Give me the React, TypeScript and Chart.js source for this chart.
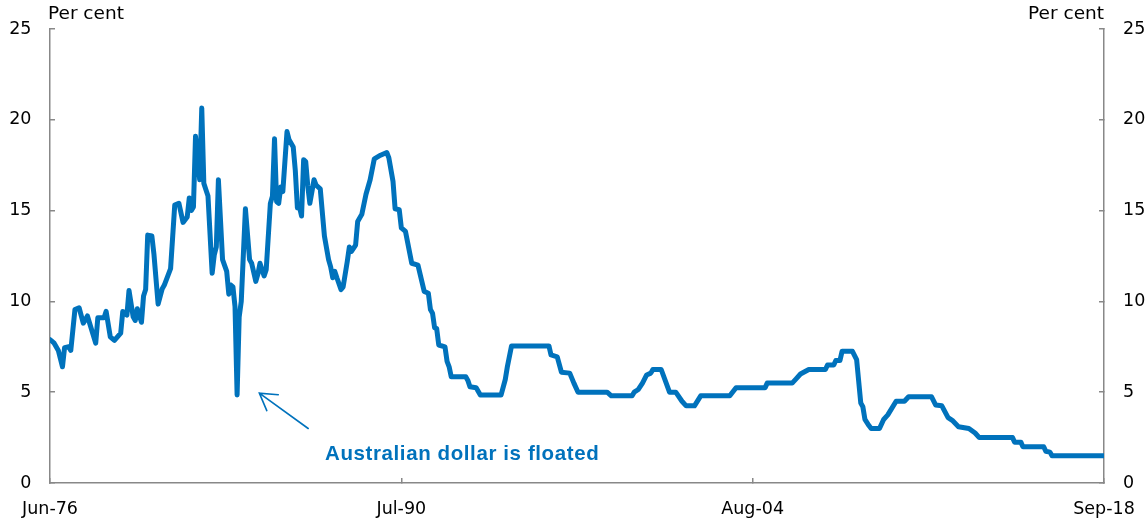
import React, { useEffect, useRef } from "react";
import { Chart, registerables } from "chart.js";

Chart.register(...registerables);

// x values: months elapsed since Jun-1976
const monthOffset = [
  0, 2, 4, 6, 7, 9, 10, 12, 14, 16, 18, 22, 23, 26, 27, 29, 31, 34, 35, 37, 38, 40, 41, 42, 44, 45, 46, 47, 49, 50,
  52, 54, 55, 58, 60, 62, 64, 66, 67, 68, 69, 70, 71, 72, 73, 74, 75, 76, 78, 79, 80, 81, 83, 85, 86, 87, 88, 89, 90,
  91, 92, 94, 96, 97, 99, 100, 101, 103, 104, 106, 107, 108, 109, 110, 111, 112, 114, 115, 117, 118, 119, 120, 121,
  122, 123, 124, 125, 127, 128, 130, 131, 132, 134, 135, 136, 137, 138, 140, 141, 143, 144, 145, 147, 148, 150, 152,
  154, 156, 159, 162, 163, 165, 166, 168, 169, 171, 174, 177, 180, 182, 183, 184, 185, 186, 187, 190, 191, 192, 193,
  200, 201, 202, 205, 207, 217, 219, 220, 222, 240, 241, 244, 246, 250, 252, 254, 268, 270, 280, 281, 283, 285, 287,
  289, 290, 294, 298, 301, 304, 306, 310, 313, 327, 330, 344, 345, 357, 359, 361, 365, 373, 374, 377, 378, 380, 381,
  386, 388, 390, 391, 392, 394, 395, 399, 401, 403, 407, 411, 413, 424, 426, 429, 432, 434, 437, 442, 445, 447, 463,
  464, 467, 468, 478, 479, 481, 482, 507,
];

// Interest rate, per cent
const rateValues = [
  7.9, 7.7, 7.3, 6.4, 7.45, 7.5, 7.3, 9.55, 9.65, 8.8, 9.2, 7.7, 9.1, 9.1, 9.45, 8.05, 7.85, 8.25, 9.45, 9.25, 10.6,
  9.15, 8.95, 9.6, 8.85, 10.3, 10.65, 13.65, 13.6, 12.6,
  9.85, 10.7, 10.9, 11.8, 15.3, 15.4, 14.35, 14.65, 15.7, 15.0, 15.2, 19.1, 18.0, 16.7, 20.65, 16.5, 16.15, 15.8,
  11.55, 12.55, 13.0, 16.7, 12.3, 11.65, 10.4, 10.9, 10.8, 9.7, 4.85,
  9.15, 10.0, 15.1, 12.3, 12.1, 11.1, 11.5, 12.1, 11.4, 11.75, 15.4, 15.8, 18.95, 15.5, 15.4, 16.3, 16.05, 19.35,
  18.9, 18.5, 17.2, 15.15, 15.2, 14.7,
  17.8, 17.7, 16.35, 15.4, 16.7, 16.4, 16.2, 14.9, 13.6, 12.3, 11.9, 11.3, 11.65, 11.3, 10.65, 10.8, 12.2, 13.0, 12.75,
  13.1, 14.4, 14.8, 15.9,
  16.7, 17.85, 18.05, 18.2, 17.9, 16.6, 15.1, 15.05, 14.05, 13.85, 12.1, 12.0, 10.55, 10.45, 9.55, 9.35, 8.55, 8.5,
  7.6, 7.5, 6.7, 6.4, 5.85,
  5.85, 5.65, 5.3, 5.25, 4.85, 4.85, 5.7, 6.4, 7.55, 7.55, 7.05, 6.95, 6.1, 6.05, 5.5, 5.0, 5.0, 4.8, 4.8, 5.0, 5.15,
  5.5, 5.95,
  6.05, 6.25, 6.25, 5.0, 5.0, 4.5, 4.25, 4.25, 4.8, 4.8, 5.25, 5.25, 5.5, 5.5, 5.75, 6.0, 6.25, 6.25, 6.5, 6.5, 6.75,
  6.75, 7.25,
  7.25, 6.8, 4.4, 4.2, 3.5, 3.15, 3.0, 3.0, 3.5, 3.75, 4.5, 4.5, 4.75, 4.75, 4.3, 4.25, 3.6, 3.45, 3.1, 3.0, 2.75, 2.5,
  2.5,
  2.25, 2.25, 2.0, 2.0, 1.75, 1.7, 1.5, 1.5,
];

const xTickOffsets = [0, 169, 338, 507];
const xTickLabels = ["Jun-76", "Jul-90", "Aug-04", "Sep-18"];
const yMin = 0;
const yMax = 25;
const yStep = 5;

const axisTitle = "Per cent";
const annotationText = "Australian dollar is floated";
// annotation anchors in data units (month offset, per cent)
const arrowTip = { x: 100.7, y: 4.95 };
const arrowTail = { x: 124.2, y: 3.0 };
const annotationAnchor = { x: 132.3, y: 1.6 };

const BLUE = "#0072BC";
const AXIS_GREY = "#888888";
const FONT = "'DejaVu Sans', sans-serif";
const TICK_FONT = { family: FONT, size: 17.5 };

const overlayPlugin = {
  id: "overlay",
  afterDraw(chart: any) {
    const { ctx, chartArea } = chart;
    const x = chart.scales.x;
    const y = chart.scales.y;
    ctx.save();
    // unit titles
    ctx.fillStyle = "#000";
    ctx.font = `18.5px ${FONT}`;
    ctx.textBaseline = "middle";
    ctx.textAlign = "left";
    ctx.fillText(axisTitle, chartArea.left - 2, 14);
    ctx.textAlign = "right";
    ctx.fillText(axisTitle, chartArea.right, 14);

    // arrow
    const tx = x.getPixelForValue(arrowTip.x);
    const ty = y.getPixelForValue(arrowTip.y);
    const ex = x.getPixelForValue(arrowTail.x);
    const ey = y.getPixelForValue(arrowTail.y);
    ctx.strokeStyle = BLUE;
    ctx.lineWidth = 1.6;
    ctx.lineCap = "round";
    ctx.beginPath();
    ctx.moveTo(ex, ey);
    ctx.lineTo(tx, ty);
    const ang = Math.atan2(ey - ty, ex - tx);
    const len = 19;
    const spread = (31 * Math.PI) / 180;
    ctx.moveTo(tx + len * Math.cos(ang - spread), ty + len * Math.sin(ang - spread));
    ctx.lineTo(tx, ty);
    ctx.lineTo(tx + len * Math.cos(ang + spread), ty + len * Math.sin(ang + spread));
    ctx.stroke();

    // annotation text
    ctx.fillStyle = BLUE;
    ctx.font = `bold 20.5px 'Liberation Sans', Arial, sans-serif`;
    try {
      (ctx as any).letterSpacing = "0.6px";
    } catch (e) {}
    ctx.textAlign = "left";
    ctx.textBaseline = "middle";
    ctx.fillText(annotationText, x.getPixelForValue(annotationAnchor.x), y.getPixelForValue(annotationAnchor.y));
    ctx.restore();
  },
};

const noPadding = (s: any) => {
  s.paddingLeft = 0;
  s.paddingRight = 0;
  s.paddingTop = 0;
  s.paddingBottom = 0;
};

export default function App() {
  const canvasRef = useRef<HTMLCanvasElement | null>(null);

  useEffect(() => {
    const canvas = canvasRef.current;
    if (!canvas) return;
    const points = monthOffset.map((m, i) => ({ x: m, y: rateValues[i] }));

    const tickGrid = {
      display: true,
      drawOnChartArea: false,
      drawTicks: true,
      tickLength: -5,
      color: AXIS_GREY,
      lineWidth: 1.5,
    };
    const border = { display: true, color: AXIS_GREY, width: 1.5 };

    const chart = new Chart(canvas, {
      type: "line",
      data: {
        datasets: [
          {
            data: points,
            borderColor: BLUE,
            backgroundColor: BLUE,
            borderWidth: 5,
            borderJoinStyle: "round",
            borderCapStyle: "round",
            pointRadius: 0,
            tension: 0,
            yAxisID: "y",
          },
        ],
      },
      options: {
        animation: false,
        responsive: false,
        devicePixelRatio: 1,
        layout: { padding: { top: 29, bottom: 0, left: 0, right: 0 } },
        plugins: { legend: { display: false }, tooltip: { enabled: false } },
        scales: {
          x: {
            type: "linear",
            min: xTickOffsets[0],
            max: xTickOffsets[xTickOffsets.length - 1],
            afterBuildTicks: (s: any) => {
              s.ticks = xTickOffsets.map((v) => ({ value: v }));
            },
            afterFit: (s: any) => {
              s.height = 38;
              noPadding(s);
            },
            ticks: {
              autoSkip: false,
              maxRotation: 0,
              minRotation: 0,
              padding: 21,
              color: "#000",
              font: TICK_FONT,
              callback: (v: any) => {
                const i = xTickOffsets.indexOf(Number(v));
                return i >= 0 ? xTickLabels[i] : "";
              },
            },
            grid: tickGrid,
            border,
          },
          y: {
            position: "left",
            min: yMin,
            max: yMax,
            afterFit: (s: any) => {
              s.width = 50;
              noPadding(s);
            },
            ticks: { stepSize: yStep, padding: 23.5, color: "#000", font: TICK_FONT },
            grid: tickGrid,
            border,
          },
          y2: {
            position: "right",
            min: yMin,
            max: yMax,
            afterFit: (s: any) => {
              s.width = 44;
              noPadding(s);
            },
            ticks: { stepSize: yStep, padding: 24, color: "#000", font: TICK_FONT },
            grid: tickGrid,
            border,
          },
        },
      } as any,
      plugins: [overlayPlugin],
    });

    return () => chart.destroy();
  }, []);

  return (
    <div style={{ position: "fixed", left: 0, top: 0, width: 1148, height: 521, background: "#fff" }}>
      <canvas ref={canvasRef} width={1148} height={521} style={{ width: 1148, height: 521, display: "block" }} />
    </div>
  );
}
